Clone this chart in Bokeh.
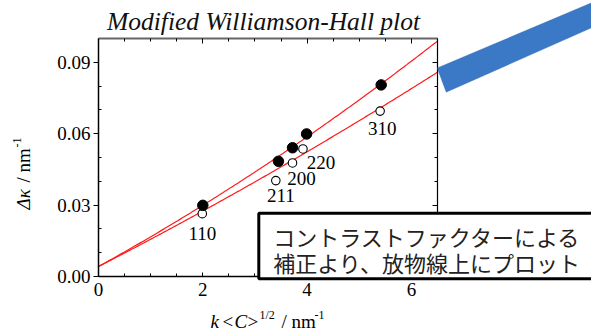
import numpy as np
from bokeh.plotting import figure
from bokeh.models import (LinearAxis, FixedTicker, NumeralTickFormatter, Label,
                          BoxAnnotation, PolyAnnotation, Range1d, ColumnDataSource,
                          CustomJSTickFormatter)
from bokeh.core.properties import value
from bokeh.embed import file_html
from bokeh.resources import INLINE

# ---------------- data ----------------
hkl = ["110", "211", "200", "220", "310"]
x_filled = [2.00, 3.45, 3.72, 3.99, 5.42]
y_filled = [0.0299, 0.0484, 0.0541, 0.0599, 0.0805]
x_open = [1.99, 3.40, 3.72, 3.92, 5.40]
y_open = [0.0264, 0.0403, 0.0477, 0.0536, 0.0695]
fit_filled = [0.0042, 0.0121, 0.00038]    # a + b*x + c*x^2
fit_open = [0.0042, 0.01125, 0.000201]
x_ticks = [0, 2, 4, 6]
x_minor = [0.5, 1.0, 1.5, 2.5, 3.0, 3.5, 4.5, 5.0, 5.5, 6.5]
y_ticks = [0.00, 0.03, 0.06, 0.09]
y_minor = [0.01, 0.02, 0.04, 0.05, 0.07, 0.08]
title_text = "Modified Williamson-Hall plot"
note_lines = ["コントラストファクターによる", "補正より、放物線上にプロット"]

# label offsets (screen px) for hkl labels, relative to open points
label_dx = [0, 5, 9, 18, 2]
label_dy = [20, 15, 16, 14, 17]

# ---------------- layout ----------------
W, H = 591, 334
FL, FR, FT, FB = 98, 437, 38, 276      # plot box in pixels
X0, X1, Y0, Y1 = 0.0, 6.5, 0.0, 0.1    # plot box in data units


def dx(px):
    return X0 + (px - FL) * (X1 - X0) / (FR - FL)


def dy(py):
    return Y0 + (FB - py) * (Y1 - Y0) / (FB - FT)


SERIF = "Liberation Serif"

p = figure(width=W, height=H, x_range=Range1d(dx(0), dx(W)), y_range=Range1d(dy(H), dy(0)),
           output_backend="svg", toolbar_location=None, min_border=0,
           min_border_left=0, min_border_right=0, min_border_top=0, min_border_bottom=0)
p.outline_line_color = None
p.xgrid.visible = False
p.ygrid.visible = False
p.background_fill_color = "white"
p.border_fill_color = "white"

xa = p.xaxis[0]
xa.fixed_location = Y0
xa.bounds = (X0, X1)
xa.ticker = FixedTicker(ticks=x_ticks, minor_ticks=x_minor)
xa.axis_line_width = 1.5
xa.axis_line_color = "black"
xa.major_tick_in = 4
xa.major_tick_out = 0
xa.minor_tick_in = 3
xa.minor_tick_out = 0
xa.major_label_text_font = SERIF
xa.major_label_text_font_size = "19px"
xa.major_label_text_color = "black"
xa.major_label_standoff = 6

ya = p.yaxis[0]
ya.fixed_location = X0
ya.bounds = (Y0, Y1)
ya.ticker = FixedTicker(ticks=y_ticks, minor_ticks=y_minor)
ya.formatter = NumeralTickFormatter(format="0.00")
ya.axis_line_width = 1.5
ya.axis_line_color = "black"
ya.major_tick_in = 0
ya.major_tick_out = 5
ya.minor_tick_in = 3
ya.minor_tick_out = 0
ya.major_label_text_font = SERIF
ya.major_label_text_font_size = "19px"
ya.major_label_text_color = "black"
ya.major_label_standoff = 3

blank = CustomJSTickFormatter(code="return ''")
top = LinearAxis(ticker=FixedTicker(ticks=x_ticks, minor_ticks=x_minor), formatter=blank,
                 fixed_location=Y1, bounds=(X0, X1),
                 axis_line_color="#666666", axis_line_width=2,
                 major_tick_in=5, major_tick_out=0, minor_tick_in=3, minor_tick_out=0,
                 major_label_text_font_size="0px", major_label_standoff=0)
p.add_layout(top, "above")
right = LinearAxis(ticker=FixedTicker(ticks=y_ticks, minor_ticks=y_minor), formatter=blank,
                   fixed_location=X1, bounds=(Y0, Y1),
                   axis_line_color="black", axis_line_width=1.2,
                   major_tick_in=5, major_tick_out=0, minor_tick_in=3, minor_tick_out=0,
                   major_label_text_font_size="0px", major_label_standoff=0)
p.add_layout(right, "right")

# ---------------- fitted parabolas ----------------
xs = np.linspace(X0, X1, 200)
for coef in (fit_filled, fit_open):
    ys = coef[0] + coef[1] * xs + coef[2] * xs ** 2
    p.line(xs, ys, line_color="#ff1a1a", line_width=1.2)

# ---------------- points ----------------
p.scatter(x_open, y_open, size=8.5, fill_color="white", line_color="black", line_width=1.1)
p.scatter(x_filled, y_filled, size=10.5, fill_color="black", line_color="black")

src = ColumnDataSource(dict(x=x_open, y=y_open, t=hkl, dx=label_dx, dy=label_dy))
p.text(x="x", y="y", text="t", x_offset="dx", y_offset="dy", source=src,
       text_font=value(SERIF), text_font_size="19px", text_color="black",
       text_align="center", text_baseline="middle")

MID = 0.3375  # distance from baseline to line-box middle, in em (Liberation Serif)


def add_label(text, px, py, size, style="normal", angle=0.0, align="left",
              font=SERIF, color="black", from_baseline=True):
    # px, py: position of the text baseline start (screen px); converted to a
    # middle-anchored label
    if from_baseline:
        if angle == 0.0:
            py = py - MID * size
        else:
            px = px - MID * size
    p.add_layout(Label(x=dx(px), y=dy(py), text=text, text_font=font,
                       text_font_size=f"{size}px", text_font_style=style, angle=angle,
                       text_align=align, text_baseline="middle", text_color=color))


# title
add_label(title_text, 263, 29.5, 25.5, "italic", align="center", color="#111111")

# x-axis label: k <C>^{1/2} / nm^{-1}
XB = 327
add_label("k", 210, XB, 19, "italic")
add_label("<", 222, XB, 19)
add_label("C", 234, XB, 19, "italic")
add_label(">", 247, XB, 19)
add_label("1/2", 259, XB - 8, 12)
add_label("/ nm", 281, XB, 19)
add_label("-1", 314, XB - 8, 12)

# y-axis label: Δκ / nm^{-1} (rotated)
YB = 29
ang = np.pi / 2
add_label("Δκ", YB, 209, 19, "italic", angle=ang)
add_label("/ nm", YB, 182, 19, angle=ang)
add_label("-1", YB - 8, 147, 12, angle=ang)

# blue callout band
band_px = [(436.7, 67.5), (445.7, 91.7), (640, 5.6), (640, -18.4)]
p.add_layout(PolyAnnotation(xs=[dx(a) for a, b in band_px], ys=[dy(b) for a, b in band_px],
                            fill_color="#3b78c6", fill_alpha=1.0,
                            line_color="#2f62a6", line_width=1))

# note box
p.add_layout(BoxAnnotation(left=dx(258.3), right=dx(720), top=dy(212.8), bottom=dy(278.3),
                           fill_color="white", fill_alpha=1.0,
                           line_color="black", line_width=3, line_alpha=1.0))
add_label(note_lines[0], 272.7, 235, 22, font="Noto Sans CJK JP", color="#222222",
          from_baseline=False)
add_label(note_lines[1], 272.7, 261.7, 22, font="Noto Sans CJK JP", color="#222222",
          from_baseline=False)

open("out.html", "w").write(file_html(p, INLINE))
